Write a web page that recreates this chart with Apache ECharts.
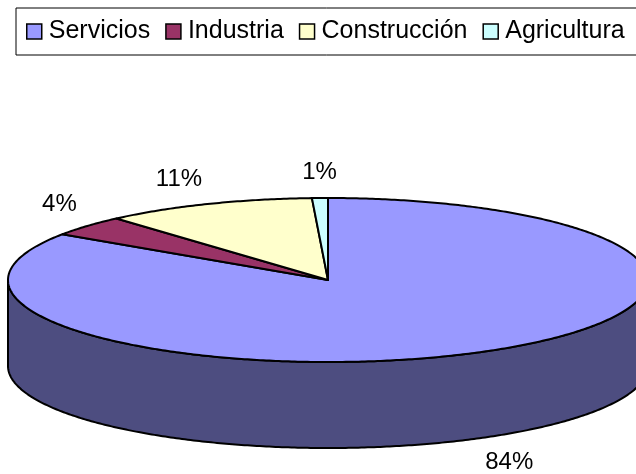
<!DOCTYPE html>
<html>
<head>
<meta charset="utf-8">
<script src="https://cdn.jsdelivr.net/npm/echarts@6/dist/echarts.min.js"></script>
<style>html,body{margin:0;padding:0;background:#fff;}#chart{width:636px;height:474px;}</style>
</head>
<body>
<div id="chart"></div>
<script>
const categories = ['Servicios', 'Industria', 'Construcción', 'Agricultura'];
const values = [84.4, 4.1, 10.7, 0.8];
const topColors = ['#9999FF', '#993366', '#FFFFCC', '#CCFFFF'];
const sideColors = ['#4D4D80', '#4D1A33', '#808066', '#668080'];

const total = values.reduce((a, b) => a + b, 0);
const cum = [0];
values.forEach((v, i) => cum.push(cum[i] + v));

const G = { cx: 328, cy: 280, rx: 320, ry: 82, depth: 86 };
const FONT = "'Liberation Sans', Arial, sans-serif";

function pt(th, dz) {
  return [G.cx + G.rx * Math.sin(th), G.cy - G.ry * Math.cos(th) + dz];
}
function arc(a, b, dz) {
  const pts = [];
  const n = Math.max(2, Math.ceil((b - a) / 0.01));
  for (let k = 0; k <= n; k++) pts.push(pt(a + (b - a) * k / n, dz));
  return pts;
}

function makeRender(i) {
  return function (params, api) {
    const v = api.value(0);
    const start = cum[i] / total * Math.PI * 2;
    const end = start + v / total * Math.PI * 2;
    const children = [];
    const a = Math.max(start, Math.PI / 2), b = Math.min(end, Math.PI * 1.5);
    if (a < b) {
      const pts = arc(a, b, 0).concat(arc(a, b, G.depth).reverse());
      children.push({
        type: 'polygon', z2: 1,
        shape: { points: pts },
        style: { fill: sideColors[i], stroke: '#000', lineWidth: 2, lineJoin: 'round' }
      });
    }
    const topPts = [[G.cx, G.cy]].concat(arc(start, end, 0));
    children.push({
      type: 'polygon', z2: 2,
      shape: { points: topPts },
      style: { fill: topColors[i], stroke: '#000', lineWidth: 2, lineJoin: 'round' }
    });
    const m = (start + end) / 2;
    const s = Math.sin(m), c = Math.cos(m);
    const anchor = pt(m, c < 0 ? G.depth : 0);
    const lx = anchor[0] + 14 * s, ly = anchor[1] - 14 * c;
    children.push({
      type: 'text', z2: 3,
      style: {
        text: Math.round(v / total * 100) + '%',
        x: lx, y: ly,
        fill: '#000', fontSize: 24, fontFamily: FONT,
        align: s > 0.3 ? 'left' : (s < -0.3 ? 'right' : 'center'),
        verticalAlign: c > 0 ? 'bottom' : 'top'
      }
    });
    return { type: 'group', children };
  };
}

const series = categories.map((name, i) => ({
  type: 'custom',
  name: name,
  coordinateSystem: 'none',
  itemStyle: { color: topColors[i] },
  data: [[values[i]]],
  renderItem: makeRender(i),
  animation: false
}));

const chart = echarts.init(document.getElementById('chart'), null, { renderer: 'canvas' });
chart.setOption({
  backgroundColor: '#fff',
  animation: false,
  legend: {
    data: categories,
    left: 16, top: 8,
    width: 900,
    orient: 'horizontal',
    padding: [11, 30, 11, 10],
    borderColor: '#000', borderWidth: 1,
    itemWidth: 15, itemHeight: 15, itemGap: 15,
    icon: 'rect',
    selectedMode: false,
    itemStyle: { borderColor: '#000', borderWidth: 1.5 },
    textStyle: { fontSize: 25, fontFamily: FONT, color: '#000', padding: [0, 0, 0, 2] }
  },
  series: series
});
</script>
</body>
</html>
